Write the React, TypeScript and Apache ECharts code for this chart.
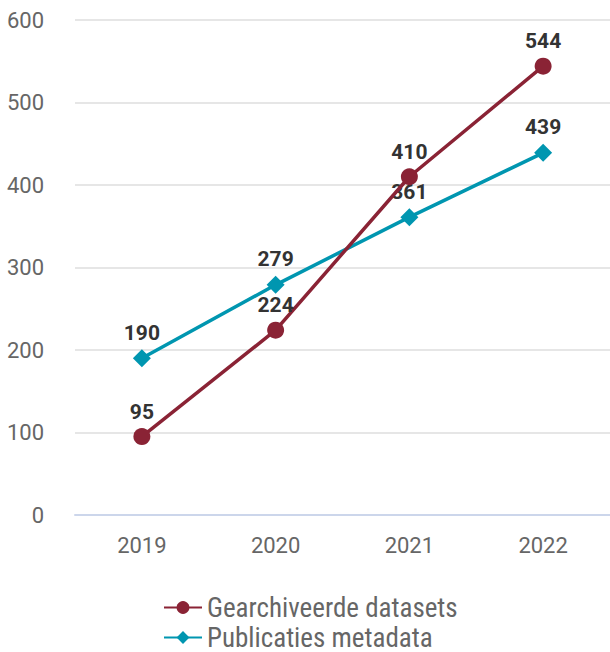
import React, { useEffect, useRef } from "react";
import * as echarts from "echarts";

const years = ["2019", "2020", "2021", "2022"];
const gearchiveerd = [95, 224, 410, 544];
const publicaties = [190, 279, 361, 439];
const seriesNames = ["Gearchiveerde datasets", "Publicaties metadata"];

export default function App() {
  const ref = useRef<HTMLDivElement>(null);
  useEffect(() => {
    document.body.style.margin = "0";
    const chart = echarts.init(ref.current!, null, { renderer: "svg" });
    const labelStyle = {
      show: true,
      position: "top" as const,
      distance: 6,
      color: "#333",
      fontFamily: "Roboto",
      fontWeight: "bold" as const,
      fontSize: 21,
    };
    const legendBase = {
      left: 163,
      padding: 0,
      itemWidth: 38,
      itemHeight: 16,
      itemGap: 8,
      textStyle: {
        fontFamily: "'Liberation Sans Narrow', 'Roboto Condensed', Roboto",
        fontSize: 27,
        lineHeight: 24,
        color: "#666",
        padding: [0, 0, 0, 0],
      },
    };
    chart.setOption({
      animation: false,
      grid: { left: 75, right: 0, top: 20, bottom: 137 },
      legend: [
        { ...legendBase, top: 594, data: [seriesNames[0]] },
        { ...legendBase, top: 624, data: [seriesNames[1]] },
      ],
      xAxis: {
        type: "category",
        data: years,
        axisLine: { lineStyle: { color: "#ccd6eb", width: 2 } },
        axisTick: { show: false },
        axisLabel: { color: "#666", fontFamily: "Roboto", fontSize: 22, margin: 19 },
      },
      yAxis: {
        type: "value",
        min: 0,
        max: 600,
        interval: 100,
        splitLine: { lineStyle: { color: "#e6e6e6", width: 2 } },
        axisLabel: { color: "#666", fontFamily: "Roboto", fontSize: 22, margin: 31 },
      },
      series: [
        {
          name: seriesNames[0],
          type: "line",
          data: gearchiveerd,
          color: "#8a2335",
          symbol: "circle",
          symbolSize: 17,
          lineStyle: { width: 3.5 },
          label: labelStyle,
          z: 3,
        },
        {
          name: seriesNames[1],
          type: "line",
          data: publicaties,
          color: "#0096b0",
          symbol: "diamond",
          symbolSize: 18,
          lineStyle: { width: 3.5 },
          label: labelStyle,
          z: 2,
        },
      ],
    });
    return () => chart.dispose();
  }, []);
  return <div ref={ref} style={{ width: 610, height: 652 }} />;
}
